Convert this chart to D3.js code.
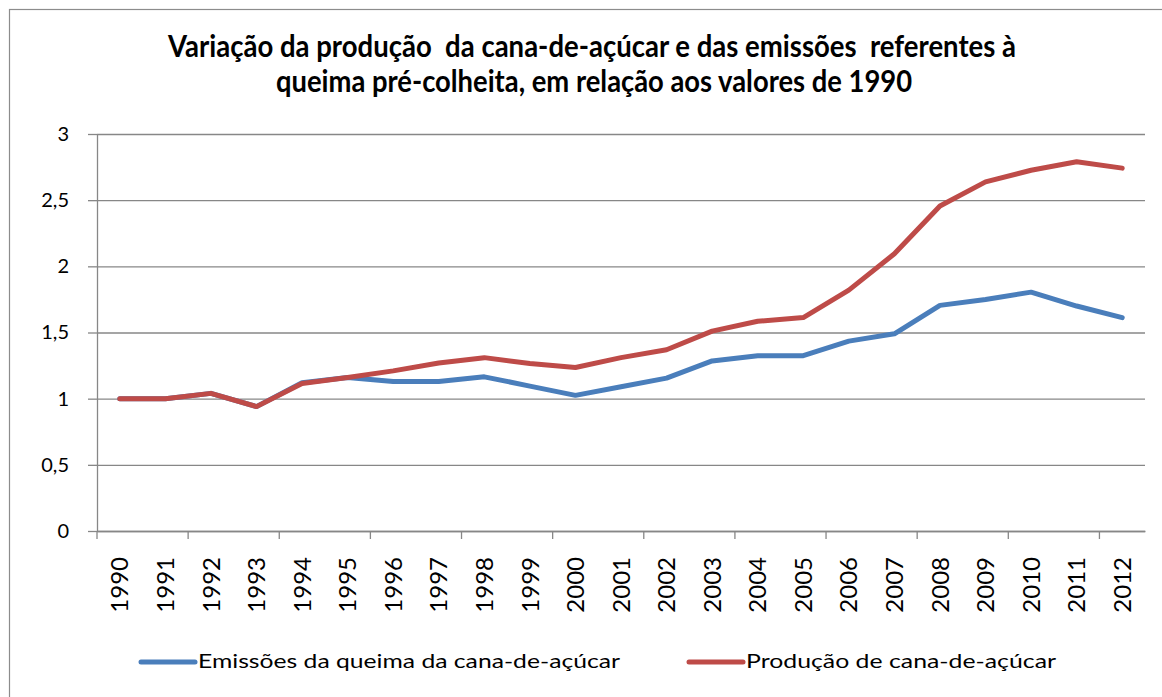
<!DOCTYPE html>
<html>
<head>
<meta charset="utf-8">
<script src="https://cdn.jsdelivr.net/npm/d3@7"></script>
<style>
  html, body { margin: 0; padding: 0; background: #fff; }
  svg { display: block; }
  text { font-family: Lato, "Open Sans", "Liberation Sans", sans-serif; fill: #000; }
</style>
</head>
<body>
<svg id="chart" width="1162" height="697"></svg>
<script>
// ---- data ----
const years = ["1990","1991","1992","1993","1994","1995","1996","1997","1998","1999","2000","2001","2002","2003","2004","2005","2006","2007","2008","2009","2010","2011","2012"];
const emissoes = [1.00,1.00,1.04,0.94,1.12,1.16,1.13,1.13,1.165,1.095,1.025,1.09,1.155,1.285,1.325,1.325,1.435,1.49,1.705,1.75,1.805,1.70,1.612];
const producao = [1.00,1.00,1.04,0.94,1.115,1.16,1.21,1.27,1.31,1.266,1.236,1.31,1.37,1.51,1.585,1.613,1.82,2.095,2.456,2.638,2.726,2.79,2.742];
const yTicks = [0,0.5,1,1.5,2,2.5,3];
const seriesNames = ["Emissões da queima da cana-de-açúcar","Produção de cana-de-açúcar"];
const titleLines = ["Variação da produção  da cana-de-açúcar e das emissões  referentes à","queima pré-colheita, em relação aos valores de 1990"];

(function () {
// ---- layout ----
const svg = d3.select("#chart");
const pL = 97, pR = 1145, pT = 134, pB = 531;
const blue = "#4A7EBB", red = "#BE4B48", grid = "#878787";

svg.append("rect").attr("x",0).attr("y",0).attr("width",1162).attr("height",697).attr("fill","#fff");
svg.append("rect").attr("x",9.5).attr("y",9.5).attr("width",1170).attr("height",720)
  .attr("fill","none").attr("stroke","#8c8c8c").attr("stroke-width",1.2);

const x = d3.scaleBand().domain(years).range([pL,pR]).padding(0);
const y = d3.scaleLinear().domain([0,3]).range([pB,pT]);
const cx = d => x(d) + x.bandwidth()/2;

// gridlines
svg.append("g").attr("transform",`translate(${pL},0)`)
  .call(d3.axisLeft(y).tickValues(yTicks).tickSize(-(pR-pL)).tickFormat(""))
  .call(g => g.select(".domain").remove())
  .call(g => g.selectAll("line").attr("stroke",grid).attr("stroke-width",1.3));

// y axis
svg.append("g").attr("transform",`translate(${pL},0)`)
  .call(d3.axisLeft(y).tickValues(yTicks).tickSize(9).tickSizeOuter(0).tickPadding(19)
    .tickFormat(d => String(d).replace(".",",")))
  .call(g => g.select(".domain").attr("stroke",grid).attr("stroke-width",1.3))
  .call(g => g.selectAll("line").attr("stroke",grid).attr("stroke-width",1.3))
  .call(g => g.selectAll("text").attr("font-size",20).attr("font-family","Lato").attr("fill","#000"));

// x axis (labels rotated)
const xg = svg.append("g").attr("transform",`translate(0,${pB})`)
  .call(d3.axisBottom(x).tickSize(0).tickSizeOuter(0).tickFormat(d => d));
xg.select(".domain").attr("stroke",grid).attr("stroke-width",1.3);
xg.selectAll(".tick text")
  .attr("font-size",24).attr("font-family","Lato").attr("fill","#000")
  .attr("text-anchor","end")
  .attr("transform","rotate(-90)")
  .attr("x",-26).attr("y",0).attr("dy","0.36em");
// tick marks between categories, every 2 categories
xg.selectAll(".catTick").data(years.filter((d,i) => i % 2 === 0)).enter().append("line")
  .attr("x1",d => x(d)).attr("x2",d => x(d)).attr("y1",0).attr("y2",8)
  .attr("stroke",grid).attr("stroke-width",1.3);

// lines
const line = d3.line().x((d,i) => cx(years[i])).y(d => y(d));
[[emissoes,blue],[producao,red]].forEach(([vals,col]) => {
  svg.append("path").datum(vals).attr("d",line).attr("fill","none")
    .attr("stroke",col).attr("stroke-width",5)
    .attr("stroke-linejoin","round").attr("stroke-linecap","round");
});

// title
const tl = [{x:168,y:57,len:848},{x:276,y:92,len:636}];
titleLines.forEach((t,i) => {
  svg.append("text").attr("x",tl[i].x).attr("y",tl[i].y)
    .attr("font-size",30).attr("font-weight","bold").attr("font-family","Lato")
    .attr("textLength",tl[i].len).attr("lengthAdjust","spacingAndGlyphs")
    .style("white-space","pre").text(t);
});

// legend
const leg = [{x1:141,x2:195,tx:198,len:422,col:blue},{x1:689,x2:743,tx:746,len:310,col:red}];
seriesNames.forEach((n,i) => {
  const L = leg[i];
  svg.append("line").attr("x1",L.x1).attr("x2",L.x2).attr("y1",662).attr("y2",662)
    .attr("stroke",L.col).attr("stroke-width",5).attr("stroke-linecap","round");
  svg.append("text").attr("x",L.tx).attr("y",668).attr("font-size",19).attr("font-family","Lato")
    .attr("textLength",L.len).attr("lengthAdjust","spacingAndGlyphs").text(n);
});
})();
</script>
</body>
</html>
